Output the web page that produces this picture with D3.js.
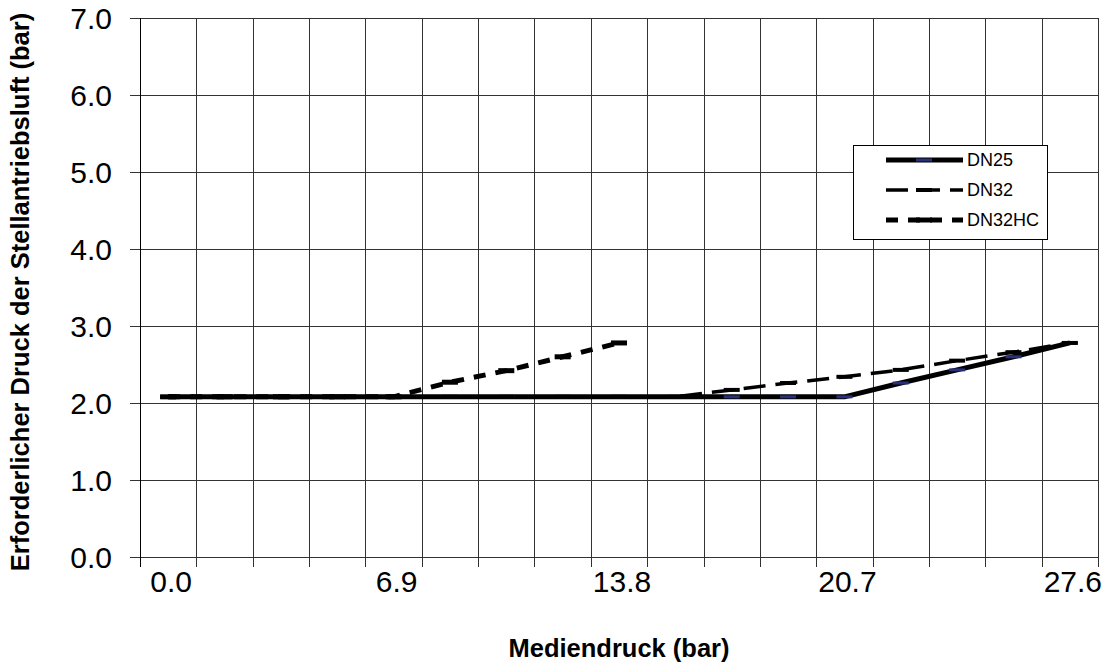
<!DOCTYPE html>
<html>
<head>
<meta charset="utf-8">
<script src="https://cdn.jsdelivr.net/npm/d3@7"></script>
<style>
  html, body { margin: 0; padding: 0; background: #fff; }
  svg { display: block; font-family: Arial, "Liberation Sans", sans-serif; }
</style>
</head>
<body>
<svg id="chart" width="1109" height="667"></svg>
<script>
// ---- data ----
const categories = ["0.0","1.7","3.4","5.2","6.9","8.6","10.3","12.1","13.8","15.5","17.2","19.0","20.7","22.4","24.1","25.9","27.6"];
const shownLabels = ["0.0","6.9","13.8","20.7","27.6"];
const dn25   = [2.08,2.08,2.08,2.08,2.08,2.08,2.08,2.08,2.08,2.08,2.08,2.08,2.08,2.26,2.43,2.60,2.78];
const dn32   = [2.08,2.08,2.08,2.08,2.08,2.08,2.08,2.08,2.08,2.08,2.17,2.26,2.34,2.43,2.55,2.66,2.78];
const dn32hc = [2.08,2.08,2.08,2.08,2.08,2.27,2.42,2.60,2.78,null,null,null,null,null,null,null,null];
const seriesNames = ["DN25","DN32","DN32HC"];
const yTicks = [0,1,2,3,4,5,6,7];
const xTitle = "Mediendruck (bar)";
const yTitle = "Erforderlicher Druck der Stellantriebsluft (bar)";

// ---- layout ----
const plot = {left: 140, right: 1098, top: 18, bottom: 557};
const svg = d3.select("#chart");

const x = d3.scaleBand().domain(categories).range([plot.left, plot.right]).paddingInner(0).paddingOuter(0);
const y = d3.scaleLinear().domain([0, 7]).range([plot.bottom, plot.top]);
const cx = c => x(c) + x.bandwidth() / 2;

const gridColor = "#333";

// horizontal gridlines + y ticks
const gy = svg.append("g");
gy.selectAll("line.h").data(yTicks).join("line")
  .attr("x1", plot.left - 10).attr("x2", plot.right)
  .attr("y1", d => Math.round(y(d)) + 0.5).attr("y2", d => Math.round(y(d)) + 0.5)
  .attr("stroke", gridColor).attr("stroke-width", 1);
gy.selectAll("text").data(yTicks).join("text")
  .attr("x", 112).attr("y", d => y(d))
  .attr("text-anchor", "end").attr("dominant-baseline", "central")
  .attr("font-size", 30).attr("fill", "#000")
  .text(d => d.toFixed(1));

// vertical gridlines at category boundaries + x ticks
const bounds = categories.map(c => x(c)).concat([plot.right]);
svg.append("g").selectAll("line").data(bounds).join("line")
  .attr("x1", d => Math.round(d) + 0.5).attr("x2", d => Math.round(d) + 0.5)
  .attr("y1", plot.top).attr("y2", plot.bottom + 10)
  .attr("stroke", gridColor).attr("stroke-width", 1);

// left axis line
svg.append("line").attr("x1", plot.left + 0.5).attr("x2", plot.left + 0.5)
  .attr("y1", plot.top).attr("y2", plot.bottom + 10).attr("stroke", "#000");

// x labels
svg.append("g").selectAll("text").data(shownLabels).join("text")
  .attr("x", d => cx(d) + 3).attr("y", 592)
  .attr("text-anchor", "middle").attr("font-size", 30).attr("fill", "#000")
  .text(d => d);

// axis titles
svg.append("text").attr("x", (plot.left + plot.right) / 2).attr("y", 657)
  .attr("text-anchor", "middle").attr("font-size", 25.5).attr("font-weight", "bold")
  .text(xTitle);
svg.append("text").attr("transform", "translate(29,292) rotate(-90)")
  .attr("text-anchor", "middle").attr("font-size", 25.5).attr("font-weight", "bold")
  .text(yTitle);

// series
const styles = [
  {name: "DN25",   data: dn25,   width: 5,   dash: null,    marker: "#28307a", mh: 3},
  {name: "DN32",   data: dn32,   width: 3.5, dash: "22,10", marker: "#000",    mh: 4},
  {name: "DN32HC", data: dn32hc, width: 5,   dash: "12,10", marker: "#000",    mh: 5}
];
const line = d3.line()
  .defined(d => d.v !== null)
  .x(d => cx(d.c)).y(d => y(d.v));

styles.forEach(s => {
  const pts = categories.map((c, i) => ({c, v: s.data[i]}));
  const g = svg.append("g");
  g.append("path").datum(pts)
    .attr("d", line).attr("fill", "none")
    .attr("stroke", "#000").attr("stroke-width", s.width)
    .attr("stroke-dasharray", s.dash)
    .attr("stroke-linejoin", "round");
  g.selectAll("rect").data(pts.filter(d => d.v !== null)).join("rect")
    .attr("x", d => cx(d.c) - 8).attr("y", d => y(d.v) - s.mh / 2)
    .attr("width", 16).attr("height", s.mh)
    .attr("fill", s.marker);
});

// legend
const lg = svg.append("g");
lg.append("rect").attr("x", 853.5).attr("y", 145.5).attr("width", 194).attr("height", 94)
  .attr("fill", "#fff").attr("stroke", "#000").attr("stroke-width", 1);
const legY = d3.scalePoint().domain(seriesNames).range([160, 220]);
styles.forEach(s => {
  const yy = legY(s.name);
  lg.append("line").attr("x1", 886).attr("x2", 963).attr("y1", yy).attr("y2", yy)
    .attr("stroke", "#000").attr("stroke-width", s.width)
    .attr("stroke-dasharray", s.dash);
  lg.append("rect").attr("x", 916).attr("y", yy - s.mh / 2).attr("width", 16).attr("height", s.mh)
    .attr("fill", s.marker);
  lg.append("text").attr("x", 967).attr("y", yy).attr("dominant-baseline", "central")
    .attr("font-size", 18).attr("fill", "#000").text(s.name);
});
</script>
</body>
</html>
